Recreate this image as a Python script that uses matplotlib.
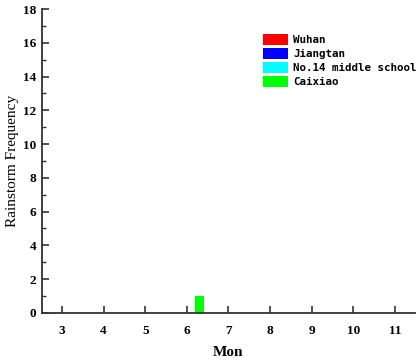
import matplotlib
matplotlib.use("Agg")
import matplotlib.pyplot as plt
import numpy as np
from matplotlib.ticker import MultipleLocator

# Monthly rainstorm counts per station
months = [3, 4, 5, 6, 7, 8, 9, 10, 11]
stations = ["Wuhan", "Jiangtan", "No.14 middle school", "Caixiao"]
wuhan = [0, 0, 0, 0, 0, 0, 0, 0, 0]
jiangtan = [0, 0, 0, 0, 0, 0, 0, 0, 0]
school14 = [0, 0, 0, 0, 0, 0, 0, 0, 0]
caixiao = [0, 0, 0, 1, 0, 0, 0, 0, 0]
colors = ["#ff0000", "#0000ff", "#00ffff", "#00ff00"]

series = [wuhan, jiangtan, school14, caixiao]
width = 0.2
offsets = [-0.3, -0.1, 0.1, 0.3]

fig = plt.figure(figsize=(4.2, 3.6), dpi=100)
ax = fig.add_axes([0.1, 0.131, 0.888, 0.844])

x = np.array(months, dtype=float)
for vals, name, col, off in zip(series, stations, colors, offsets):
    ax.bar(x + off, vals, width=width, color=col, label=name, linewidth=0)

ax.set_xlim(2.52, 11.48)
ax.set_ylim(0, 18)
ax.set_xticks(months)
ax.yaxis.set_major_locator(MultipleLocator(2))
ax.yaxis.set_minor_locator(MultipleLocator(1))

for s in ["top", "right"]:
    ax.spines[s].set_visible(False)
for s in ["left", "bottom"]:
    ax.spines[s].set_color("#333333")
    ax.spines[s].set_linewidth(1.3)

ax.tick_params(axis="both", which="major", direction="in", length=5, width=1.2,
               color="#333333", labelsize=9.5)
ax.tick_params(axis="y", which="minor", direction="in", length=3, width=1,
               color="#333333")
ax.tick_params(axis="x", pad=9)
ax.tick_params(axis="y", pad=4)
for lab in ax.get_xticklabels() + ax.get_yticklabels():
    lab.set_family("Liberation Serif")
    lab.set_fontweight("bold")

ax.set_xlabel("Mon", family="Liberation Serif", fontweight="bold", fontsize=11, labelpad=6)
ax.set_ylabel("Rainstorm Frequency", family="Liberation Serif", fontsize=11, labelpad=3)

ax.legend(loc="upper left", bbox_to_anchor=(0.626, 0.905), bbox_transform=fig.transFigure,
          frameon=False, prop={"family": "DejaVu Sans Mono", "weight": "bold", "size": 7.8},
          handlelength=2.3, handleheight=1.2, labelspacing=0.26, handletextpad=0.5,
          borderpad=0, borderaxespad=0)

fig.savefig("out.png", dpi=100)
